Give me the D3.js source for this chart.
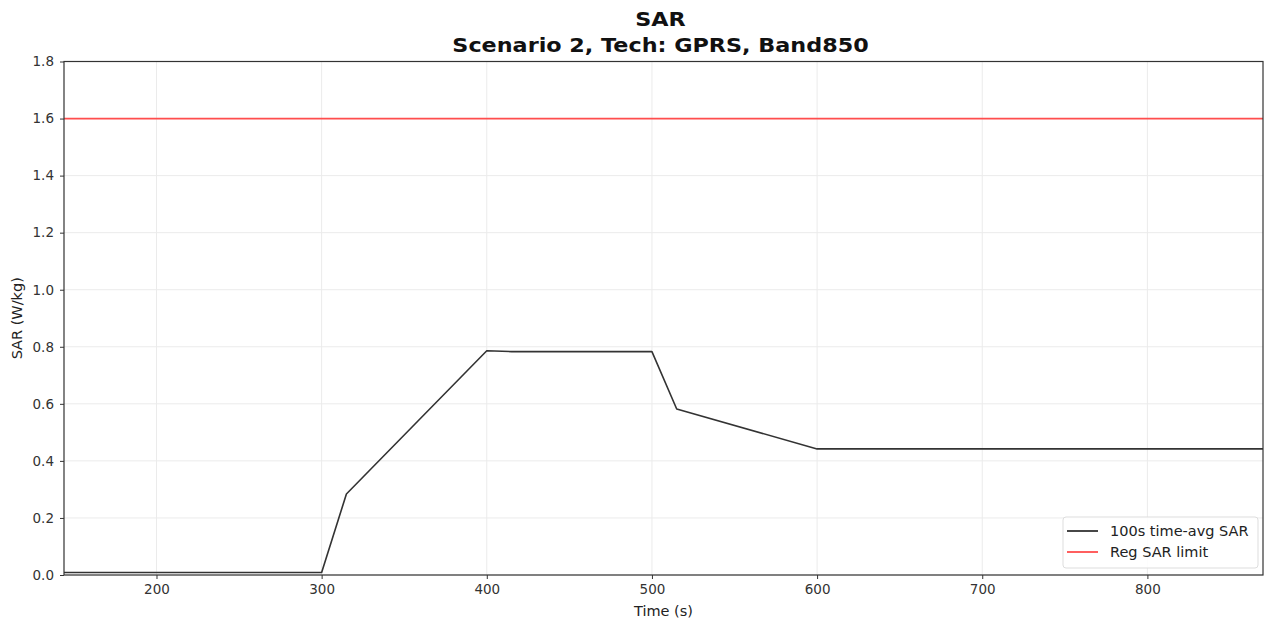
<!DOCTYPE html>
<html><head><meta charset="utf-8">
<script src="https://cdn.jsdelivr.net/npm/d3@7/dist/d3.min.js"></script>
<style>body{margin:0;background:#fff}svg{display:block;font-family:"DejaVu Sans",sans-serif}</style>
</head><body><svg id="c" width="1264" height="622"></svg>
<script>
const timeS = [144, 300, 315, 400, 415, 500, 515, 600, 870];
const sarAvg = [0.009, 0.009, 0.284, 0.786, 0.783, 0.783, 0.582, 0.442, 0.442];
const regLimit = 1.6;
const xTicks = [200, 300, 400, 500, 600, 700, 800];
const yTicks = [0, 0.2, 0.4, 0.6, 0.8, 1.0, 1.2, 1.4, 1.6, 1.8];
const titleLines = ["SAR", "Scenario 2, Tech: GPRS, Band850"];
const legendLabels = ["100s time-avg SAR", "Reg SAR limit"];

const svg = d3.select("#c");
const m = {l:64, r:1263, t:61.5, b:575};
const x = d3.scaleLinear().domain([144, 870]).range([m.l, m.r]);
const y = d3.scaleLinear().domain([0, 1.8]).range([m.b, m.t]);

// grid
svg.append("g").selectAll("line").data(xTicks).join("line")
  .attr("x1", d=>x(d)).attr("x2", d=>x(d)).attr("y1", m.t).attr("y2", m.b)
  .attr("stroke", "#ebebeb").attr("stroke-width", 1);
svg.append("g").selectAll("line").data(yTicks).join("line")
  .attr("x1", m.l).attr("x2", m.r).attr("y1", d=>y(d)).attr("y2", d=>y(d))
  .attr("stroke", "#ebebeb").attr("stroke-width", 1);

// data lines
const line = d3.line().x((d,i)=>x(timeS[i])).y(d=>y(d));
svg.append("path").datum(sarAvg).attr("d", line).attr("fill","none")
  .attr("stroke","#333").attr("stroke-width",1.6).attr("stroke-linejoin","round");
svg.append("line").attr("x1", m.l).attr("x2", m.r).attr("y1", y(regLimit)).attr("y2", y(regLimit))
  .attr("stroke","#ff4d4d").attr("stroke-width",1.8);

// axes
const xa = svg.append("g").attr("transform",`translate(0,${m.b})`)
  .call(d3.axisBottom(x).tickValues(xTicks).tickSize(4).tickPadding(5).tickFormat(d3.format("d")));
const ya = svg.append("g").attr("transform",`translate(${m.l},0)`)
  .call(d3.axisLeft(y).tickValues(yTicks).tickSize(4).tickPadding(6).tickFormat(d3.format(".1f")));
[xa, ya].forEach(a=>{
  a.select(".domain").remove();
  a.selectAll("line").attr("stroke","#333");
  a.selectAll("text").attr("font-size", 13.5).attr("fill","#333").attr("font-family","DejaVu Sans");
});
// frame
svg.append("rect").attr("x", m.l).attr("y", m.t).attr("width", m.r-m.l).attr("height", m.b-m.t)
  .attr("fill","none").attr("stroke","#333").attr("stroke-width",1.2);

// titles
const cx = (m.l+m.r)/2 - 3;
svg.append("text").attr("transform",`translate(${cx},26) scale(1.115,1)`).attr("text-anchor","middle")
  .attr("font-size", 20).attr("font-weight","bold").attr("fill","#111").text(titleLines[0]);
svg.append("text").attr("transform",`translate(${cx},52) scale(1.115,1)`).attr("text-anchor","middle")
  .attr("font-size", 20).attr("font-weight","bold").attr("fill","#111").text(titleLines[1]);
svg.append("text").attr("x", (m.l+m.r)/2).attr("y", 616).attr("text-anchor","middle")
  .attr("font-size", 14.5).attr("fill","#222").text("Time (s)");
svg.append("text").attr("transform",`translate(22,${(m.t+m.b)/2}) rotate(-90)`).attr("text-anchor","middle")
  .attr("font-size", 14.5).attr("fill","#222").text("SAR (W/kg)");

// legend
const lg = svg.append("g");
lg.append("rect").attr("x",1063).attr("y",517).attr("width",195).attr("height",51).attr("rx",3)
  .attr("fill","#fff").attr("fill-opacity",0.85).attr("stroke","#ddd");
const colors = ["#333", "#ff4d4d"];
legendLabels.forEach((t,i)=>{
  const yy = 531 + i*21;
  lg.append("line").attr("x1",1067).attr("x2",1098).attr("y1",yy).attr("y2",yy)
    .attr("stroke",colors[i]).attr("stroke-width",1.8);
  lg.append("text").attr("x",1110).attr("y",yy+5).attr("font-size",14.5).attr("fill","#222").text(t);
});
</script></body></html>
